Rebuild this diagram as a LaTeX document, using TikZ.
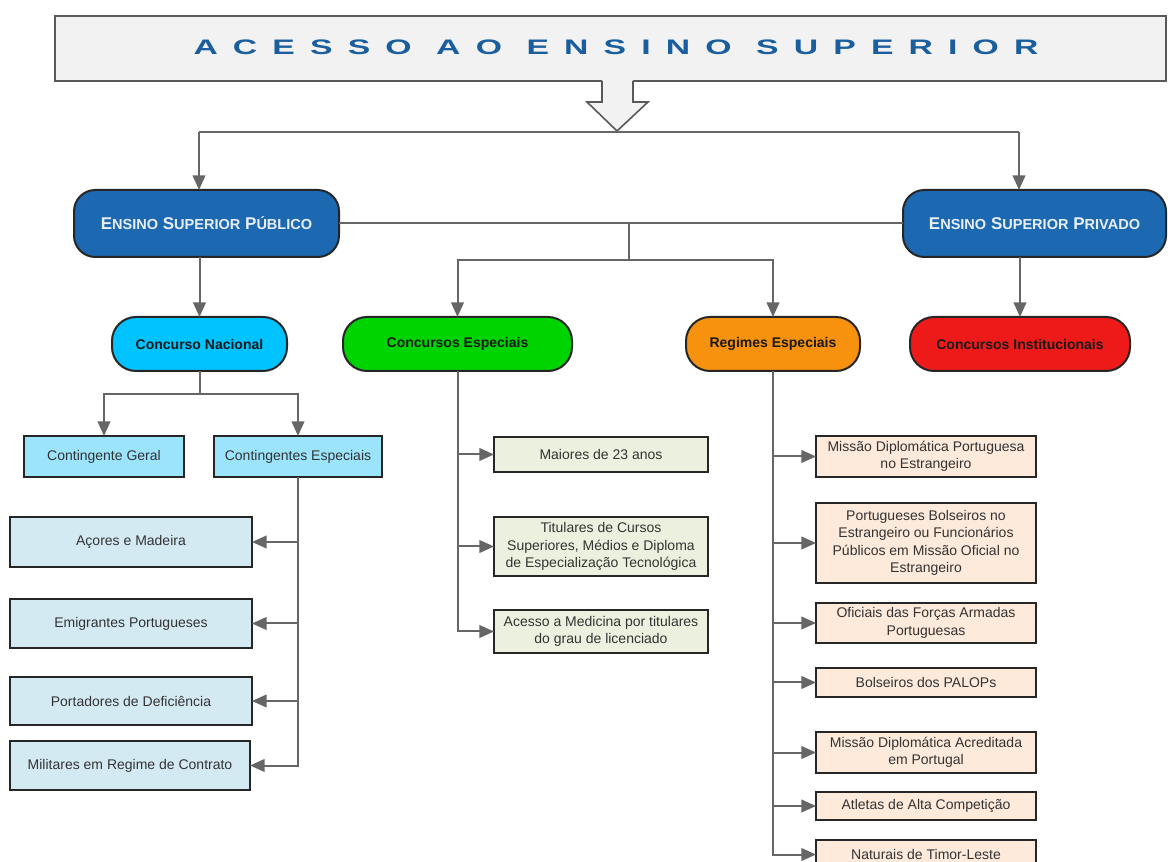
\documentclass[tikz,border=0pt]{standalone}
\usepackage{fontspec}
\usepackage{graphicx}
\setmainfont{Liberation Sans}
\usetikzlibrary{arrows.meta}

\definecolor{titlefill}{HTML}{F2F2F2}
\definecolor{titleblue}{HTML}{1A5E9E}
\definecolor{sectorblue}{HTML}{1C69B2}
\definecolor{sectortext}{HTML}{E8EEF6}
\definecolor{cyanfill}{HTML}{00C3FF}
\definecolor{greenfill}{HTML}{00D400}
\definecolor{orangefill}{HTML}{F7920F}
\definecolor{redfill}{HTML}{EE1A1A}
\definecolor{contfill}{HTML}{9BE4FB}
\definecolor{paleblue}{HTML}{D4EAF2}
\definecolor{palegreen}{HTML}{EBF1DE}
\definecolor{palepeach}{HTML}{FDEADB}
\definecolor{linkgray}{HTML}{666666}
\definecolor{textgray}{HTML}{333333}

% box placed by its corners, in pixel units
\newcommand{\bx}[7]{\node[#2, minimum width={(#5-#3)*0.75pt}, minimum height={(#6-#4)*0.75pt}] (#1) at ({(#3+#5)/2},{(#4+#6)/2}) {#7};}
% imitation small capitals
\newcommand{\fsc}[2]{#1{\fontsize{10.9}{12}\selectfont #2}}

\tikzset{
  x=0.75pt, y=-0.75pt,
  base/.style={inner sep=0pt, outer sep=0pt, align=center},
  titlebox/.style={base, draw=black!65, line width=1.5pt, fill=titlefill},
  sector/.style={base, draw=black!85, line width=1.5pt, fill=sectorblue, rounded corners=16pt,
    text=sectortext, font=\bfseries\fontsize{12.75}{14}\selectfont},
  branch/.style={base, draw=black!85, line width=1.5pt, rounded corners=18pt,
    text=black!90, font=\bfseries\fontsize{10.5}{12}\selectfont},
  item/.style={base, draw=black!85, line width=1.5pt, text=textgray,
    font=\fontsize{10.5}{13.1}\selectfont},
  link/.style={draw=linkgray, line width=1.5pt},
  arr/.style={link, -{Triangle[length=11pt, width=9.5pt]}},
}

\begin{document}
\begin{tikzpicture}
\useasboundingbox (0,0) rectangle (1168,862);
\clip (0,0) rectangle (1168,862);
\fill[white] (0,0) rectangle (1168,862);

% title, widened letter by letter
\bx{title}{titlebox}{55}{16}{1166}{81}{}
\node[base, text=titleblue, font=\bfseries\fontsize{15.75}{18}\selectfont] (titletext) at (616,47)
  {\resizebox{633.75pt}{\height}{\addfontfeature{LetterSpace=45}ACESSO AO ENSINO SUPERIOR}};

% hollow arrow under the title
\fill[titlefill] (602,79) -- (602,102) -- (587,102) -- (617,131) -- (648,102) -- (633,102) -- (633,79) -- cycle;
\draw[draw=black!65, line width=1.2pt, line join=miter] (602,81) -- (602,102) -- (587,102) -- (617,131) -- (648,102) -- (633,102) -- (633,81);

% sectors
\bx{esp}{sector}{74}{190}{339}{257}{\fsc{E}{NSINO} \fsc{S}{UPERIOR} \fsc{P}{ÚBLICO}}
\bx{espriv}{sector}{903}{190}{1166}{257}{\fsc{E}{NSINO} \fsc{S}{UPERIOR} \fsc{P}{RIVADO}}

% access routes
\bx{cn}{branch, fill=cyanfill}{112}{317}{287}{371}{Concurso Nacional}
\bx{ce}{branch, fill=greenfill}{343}{317}{572}{371}{Concursos Especiais}
\bx{re}{branch, fill=orangefill}{686}{317}{860}{371}{Regimes Especiais}
\bx{ci}{branch, fill=redfill}{910}{317}{1130}{371}{Concursos Institucionais}

% national contest
\bx{cg}{item, fill=contfill}{24}{436}{184}{477}{Contingente Geral}
\bx{ces}{item, fill=contfill}{214}{436}{382}{477}{Contingentes Especiais}
\bx{a1}{item, fill=paleblue}{10}{517}{252}{567}{Açores e Madeira}
\bx{a2}{item, fill=paleblue}{10}{599}{252}{648}{Emigrantes Portugueses}
\bx{a3}{item, fill=paleblue}{10}{677}{252}{725}{Portadores de Deficiência}
\bx{a4}{item, fill=paleblue}{10}{741}{250}{790}{Militares em Regime de Contrato}

% special contests
\bx{m1}{item, fill=palegreen}{494}{437}{708}{472}{Maiores de 23 anos}
\bx{m2}{item, fill=palegreen}{494}{517}{708}{576}{Titulares de Cursos\\Superiores, Médios e Diploma\\de Especialização Tecnológica}
\bx{m3}{item, fill=palegreen}{494}{610}{708}{653}{Acesso a Medicina por titulares\\do grau de licenciado}

% special regimes
\bx{r1}{item, fill=palepeach}{816}{436}{1036}{477}{Missão Diplomática Portuguesa\\no Estrangeiro}
\bx{r2}{item, fill=palepeach}{816}{503}{1036}{583}{Portugueses Bolseiros no\\Estrangeiro ou Funcionários\\Públicos em Missão Oficial no\\Estrangeiro}
\bx{r3}{item, fill=palepeach}{816}{603}{1036}{643}{Oficiais das Forças Armadas\\Portuguesas}
\bx{r4}{item, fill=palepeach}{816}{668}{1036}{697}{Bolseiros dos PALOPs}
\bx{r5}{item, fill=palepeach}{816}{732}{1036}{773}{Missão Diplomática Acreditada\\em Portugal}
\bx{r6}{item, fill=palepeach}{816}{792}{1036}{820}{Atletas de Alta Competição}
\bx{r7}{item, fill=palepeach}{816}{840}{1036}{869}{Naturais de Timor-Leste}

% connectors from the title
\coordinate (fork) at (617,132);
\draw[link] (199,132) -- (1019,132);
\draw[arr] (fork -| 199,0) -- (esp.north -| 199,0);
\draw[arr] (fork -| 1019,0) -- (espriv.north -| 1019,0);

% link between the sectors and the shared routes
\draw[link] (esp.east) -- (espriv.west);
\coordinate (mid) at (629,223.5);
\coordinate (split) at (629,260);
\draw[link] (mid) -- (split);
\draw[arr] (split) -| (ce.north);
\draw[arr] (split) -| (re.north);

% sector to route
\draw[arr] (esp.south -| cn.north) -- (cn.north);
\draw[arr] (espriv.south -| ci.north) -- (ci.north);

% national contest tree
\coordinate (cnsplit) at (cn.south |- 0,394);
\draw[link] (cn.south) -- (cnsplit);
\draw[arr] (cnsplit) -| (cg.north);
\draw[arr] (cnsplit) -| (ces.north);
\foreach \t in {a1,a2,a3,a4} \draw[arr] (ces.south) |- (\t.east);

% special contests tree
\foreach \t in {m1,m2,m3} \draw[arr] (ce.south) |- (\t.west);

% special regimes tree
\foreach \t in {r1,r2,r3,r4,r5,r6,r7} \draw[arr] (re.south) |- (\t.west);
\end{tikzpicture}
\end{document}
